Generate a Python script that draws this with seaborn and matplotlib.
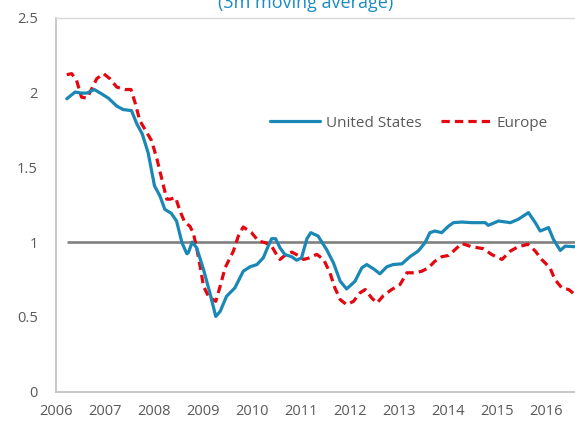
import numpy as np
import pandas as pd
import matplotlib
matplotlib.use("Agg")
import matplotlib.pyplot as plt
import seaborn as sns

# values (fractional year, ratio)
us_year = [2006.22, 2006.39, 2006.52, 2006.63, 2006.78, 2006.93, 2007.07, 2007.24, 2007.37, 2007.54,
           2007.65, 2007.76, 2007.88, 2008.01, 2008.12, 2008.22, 2008.35, 2008.46, 2008.57, 2008.67,
           2008.70, 2008.78, 2008.87, 2009.01, 2009.14, 2009.26, 2009.35, 2009.48, 2009.65, 2009.82,
           2009.96, 2010.10, 2010.23, 2010.33, 2010.40, 2010.48, 2010.57, 2010.67, 2010.81, 2010.91,
           2011.01, 2011.12, 2011.20, 2011.35, 2011.39, 2011.52, 2011.66, 2011.80, 2011.93, 2012.10,
           2012.24, 2012.34, 2012.48, 2012.61, 2012.75, 2012.88, 2013.06, 2013.22, 2013.39, 2013.53,
           2013.63, 2013.73, 2013.87, 2014.01, 2014.11, 2014.28, 2014.48, 2014.76, 2014.82, 2015.03,
           2015.27, 2015.43, 2015.64, 2015.78, 2015.88, 2016.05, 2016.15, 2016.29, 2016.39, 2016.59]
us_value = [1.958, 2.003, 1.996, 1.996, 2.020, 1.991, 1.962, 1.909, 1.886, 1.879,
            1.790, 1.723, 1.597, 1.376, 1.309, 1.219, 1.193, 1.141, 0.996, 0.922,
            0.929, 1.000, 0.962, 0.817, 0.660, 0.503, 0.537, 0.638, 0.694, 0.805,
            0.835, 0.850, 0.895, 0.973, 1.023, 1.023, 0.962, 0.917, 0.902, 0.879,
            0.895, 1.023, 1.063, 1.040, 1.018, 0.951, 0.862, 0.738, 0.687, 0.738,
            0.828, 0.850, 0.821, 0.788, 0.835, 0.850, 0.855, 0.902, 0.940, 0.996,
            1.063, 1.074, 1.063, 1.107, 1.130, 1.134, 1.130, 1.130, 1.112, 1.141,
            1.130, 1.152, 1.197, 1.130, 1.074, 1.097, 1.018, 0.944, 0.973, 0.969]

eu_year = [2006.22, 2006.32, 2006.42, 2006.52, 2006.63, 2006.73, 2006.83, 2006.97, 2007.10, 2007.24,
           2007.41, 2007.53, 2007.61, 2007.71, 2007.85, 2007.95, 2008.06, 2008.16, 2008.26, 2008.33,
           2008.44, 2008.53, 2008.63, 2008.73, 2008.80, 2008.87, 2008.94, 2009.01, 2009.11, 2009.26,
           2009.35, 2009.45, 2009.62, 2009.72, 2009.82, 2009.99, 2010.13, 2010.27, 2010.40, 2010.50,
           2010.57, 2010.67, 2010.81, 2010.94, 2011.05, 2011.18, 2011.32, 2011.46, 2011.59, 2011.69,
           2011.80, 2011.93, 2012.07, 2012.20, 2012.31, 2012.44, 2012.55, 2012.68, 2012.85, 2013.02,
           2013.16, 2013.33, 2013.46, 2013.60, 2013.73, 2013.87, 2014.01, 2014.11, 2014.28, 2014.48,
           2014.72, 2014.89, 2015.10, 2015.27, 2015.43, 2015.63, 2015.78, 2015.91, 2016.08, 2016.18,
           2016.32, 2016.46, 2016.59]
eu_value = [2.119, 2.126, 2.081, 1.969, 1.962, 2.025, 2.092, 2.126, 2.092, 2.036,
            2.020, 2.020, 1.936, 1.812, 1.734, 1.678, 1.555, 1.421, 1.287, 1.287,
            1.298, 1.208, 1.130, 1.107, 1.063, 0.962, 0.839, 0.705, 0.638, 0.604,
            0.705, 0.828, 0.940, 1.040, 1.101, 1.063, 1.007, 0.996, 0.973, 0.917,
            0.884, 0.911, 0.933, 0.911, 0.884, 0.895, 0.918, 0.884, 0.795, 0.694,
            0.615, 0.582, 0.604, 0.660, 0.683, 0.627, 0.593, 0.642, 0.683, 0.716,
            0.795, 0.795, 0.805, 0.828, 0.872, 0.902, 0.911, 0.940, 0.991, 0.969,
            0.956, 0.917, 0.884, 0.940, 0.969, 0.985, 0.940, 0.884, 0.828, 0.750,
            0.694, 0.683, 0.649]

year_ticks = list(range(2006, 2017))
y_ticks = [0, 0.5, 1, 1.5, 2, 2.5]
y_tick_labels = ["0", "0.5", "1", "1.5", "2", "2.5"]

sns.set_style("white")
plt.rcParams["font.family"] = ["Open Sans", "DejaVu Sans"]

blue = "#1a87b5"
red = "#e4070f"
tick_grey = "#595959"
axis_grey = "#bfbfbf"

fig = plt.figure(figsize=(5.75, 4.24), dpi=100)
ax = fig.add_axes([56 / 575, 1 - 391.7 / 424, 1 - 56 / 575, (391.7 - 17.7) / 424])

# reference line at 1
ax.hlines(1, us_year[0], us_year[-1], color="#808080", lw=1.9, zorder=1)

sns.lineplot(x=us_year, y=us_value, ax=ax, color=blue, lw=2.3, label="United States",
             solid_capstyle="round", zorder=3)
sns.lineplot(x=eu_year, y=eu_value, ax=ax, color=red, lw=2.3, label="Europe",
             linestyle=(0, (2.6, 1.6)), zorder=2)

ax.set_xlim(2006, 2016.59)
ax.set_ylim(0, 2.5)
ax.set_xticks(year_ticks)
ax.set_xticklabels([str(y) for y in year_ticks])
ax.set_yticks(y_ticks)
ax.set_yticklabels(y_tick_labels)

ax.tick_params(axis="both", direction="in", length=4, width=1, color=axis_grey,
               labelcolor=tick_grey, labelsize=10.5)
ax.tick_params(axis="y", pad=13)
ax.tick_params(axis="x", pad=9)

for side in ["left", "bottom"]:
    ax.spines[side].set_color(axis_grey)
    ax.spines[side].set_linewidth(1.2)
ax.spines["top"].set_color("#d9d9d9")
ax.spines["top"].set_linewidth(1)
ax.spines["right"].set_visible(False)

ax.legend(loc="center", bbox_to_anchor=(0.68, 0.718), ncol=2, frameon=False,
          fontsize=11, handlelength=3.3, handletextpad=0.35, columnspacing=1.3,
          labelcolor=tick_grey)

fig.text(0.532, 0.981, "(3m moving average)", color="#1a8cc0", fontsize=13,
         ha="center", va="baseline")

fig.savefig("out.png", dpi=100)
